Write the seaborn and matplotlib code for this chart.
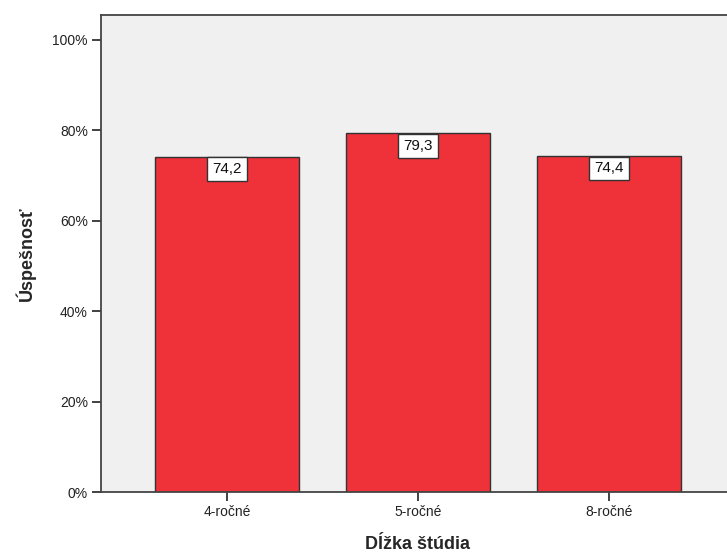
import matplotlib
matplotlib.use("Agg")
import matplotlib.pyplot as plt
import seaborn as sns
import pandas as pd

# hodnoty z grafu
kategorie = ["4-ročné", "5-ročné", "8-ročné"]
uspesnost = [74.2, 79.3, 74.4]
y_ticky = [0, 20, 40, 60, 80, 100]

sns.set_style("white")
plt.rcParams['font.family'] = ['Liberation Sans', 'DejaVu Sans']

df = pd.DataFrame({"dlzka": kategorie, "uspesnost": uspesnost})

fig = plt.figure(figsize=(7.27, 5.56), dpi=100)
ax = fig.add_axes([101 / 727, 1 - 492 / 556, 634 / 727, 477 / 556])
ax.set_facecolor("#f0f0f0")

sns.barplot(data=df, x="dlzka", y="uspesnost", color="#ef3139", saturation=1,
            width=0.75, edgecolor="#333333", linewidth=1, ax=ax)

# popisky hodnot v bielych ramcekoch
for i, v in enumerate(uspesnost):
    ax.annotate(f"{v:.1f}".replace(".", ","), xy=(i, v), xytext=(0, -4.2),
                textcoords="offset points", ha="center", va="top", fontsize=11,
                color="#111111",
                bbox=dict(boxstyle="square,pad=0.32", fc="white", ec="#333333", lw=1))

ax.set_xlim(-0.66, 2.66)
ax.set_ylim(0, 105.5)
ax.set_yticks(y_ticky)
ax.set_yticklabels([f"{t}%" for t in y_ticky])

for s in ax.spines.values():
    s.set_color("#444444")
    s.set_linewidth(1.3)

ax.tick_params(axis="both", which="both", direction="out", length=6.5, width=1.3,
               color="#333333", labelsize=10, labelcolor="#222222", pad=3,
               left=True, bottom=True)

ax.set_xlabel("Dĺžka štúdia", fontsize=13, fontweight="bold", labelpad=12)
ax.set_ylabel("Úspešnosť", fontsize=13, fontweight="bold", labelpad=12)

fig.savefig("out.png", dpi=100)
